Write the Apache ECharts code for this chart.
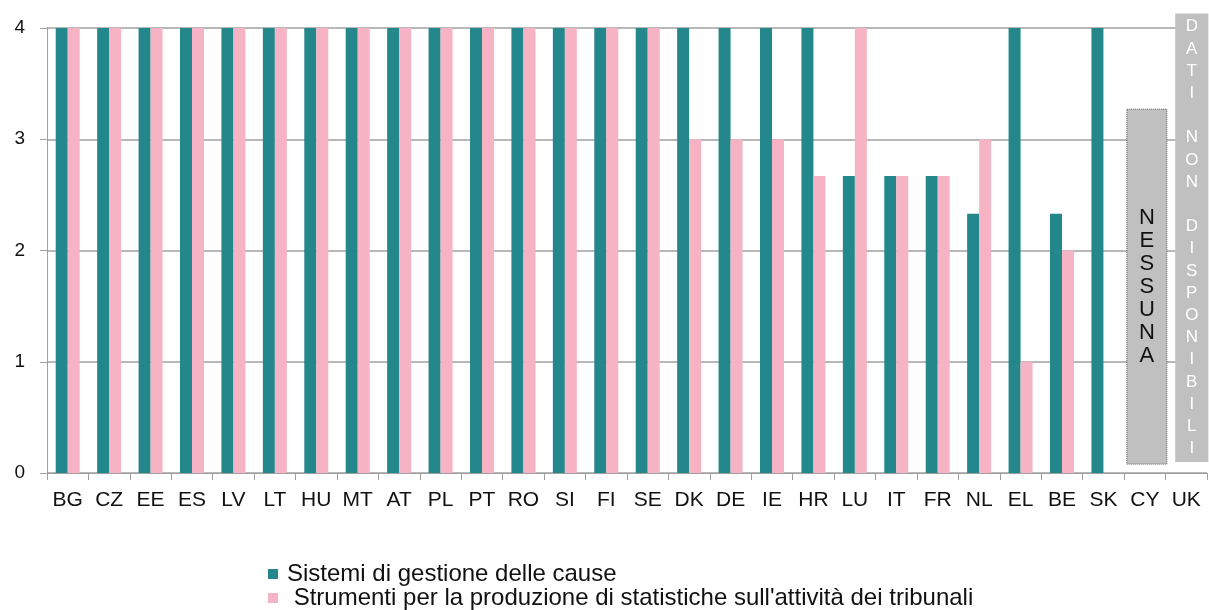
<!DOCTYPE html>
<html>
<head>
<meta charset="utf-8">
<script src="https://cdn.jsdelivr.net/npm/echarts@6/dist/echarts.min.js"></script>
<style>
html,body{margin:0;padding:0;background:#fff;}
#chart{width:1209px;height:610px;}
</style>
</head>
<body>
<div id="chart"></div>
<script>
var categories = ['BG','CZ','EE','ES','LV','LT','HU','MT','AT','PL','PT','RO','SI','FI','SE','DK','DE','IE','HR','LU','IT','FR','NL','EL','BE','SK','CY','UK'];
var seriesNames = ['Sistemi di gestione delle cause', ' Strumenti per la produzione di statistiche sull\'attività dei tribunali'];
var gestione = [4,4,4,4,4,4,4,4,4,4,4,4,4,4,4,4,4,4,4,2.67,2.67,2.67,2.33,4,2.33,4,null,null];
var statistiche = [4,4,4,4,4,4,4,4,4,4,4,4,4,4,4,3,3,3,2.67,4,2.67,2.67,3,1,2,null,null,null];
var yTicks = [0,1,2,3,4];
// annotation boxes: [category, bottom value, top value, label]
var notes = [
  ['CY', 0.08, 3.27, 'NESSUNA'],
  ['UK', 0.1, 4.13, 'DATI NON DISPONIBILI']
];

var FONT = '"Liberation Sans", Arial, sans-serif';
var chart = echarts.init(document.getElementById('chart'));

function verticalText(s) {
  return s.split('').map(function (c) { return c === ' ' ? '' : c; }).join('\n');
}

chart.setOption({
  animation: false,
  grid: { left: 47, right: 2, top: 28, bottom: 137, containLabel: false },
  legend: {
    orient: 'vertical',
    left: 268, top: 562, height: 50, padding: 0,
    itemWidth: 10, itemHeight: 10, itemGap: 0,
    icon: 'rect',
    textStyle: { fontFamily: FONT, fontSize: 24, color: '#111', lineHeight: 23, padding: [0, 0, 0, 4] },
    data: seriesNames
  },
  xAxis: {
    type: 'category',
    data: categories,
    axisLine: { lineStyle: { color: '#a0a0a0', width: 1 } },
    axisTick: { show: true, length: 7, lineStyle: { color: '#a0a0a0' } },
    axisLabel: { fontFamily: FONT, fontSize: 21, color: '#111', margin: 17, interval: 0 }
  },
  yAxis: {
    type: 'value',
    min: yTicks[0], max: yTicks[yTicks.length - 1], interval: 1,
    axisLine: { show: true, lineStyle: { color: '#a0a0a0', width: 1 } },
    axisTick: { show: true, length: 7, lineStyle: { color: '#a0a0a0' } },
    splitLine: { lineStyle: { color: '#a0a0a0', width: 1.5 } },
    axisLabel: { fontFamily: FONT, fontSize: 19, color: '#111', margin: 22, padding: [0, 0, 5, 0] }
  },
  series: [
    {
      name: seriesNames[0], type: 'bar', data: gestione,
      barWidth: 12, barGap: '0%',
      itemStyle: { color: '#23878c' }
    },
    {
      name: seriesNames[1], type: 'bar', data: statistiche,
      barWidth: 12, barGap: '0%',
      itemStyle: { color: '#f5b3c3' }
    },
    {
      type: 'custom',
      silent: true,
      clip: false,
      data: notes,
      encode: { x: 0, y: [1, 2] },
      renderItem: function (params, api) {
        var cat = api.value(0);
        var bottom = api.coord([cat, api.value(1)]);
        var top = api.coord([cat, api.value(2)]);
        var bw = api.size([1, 0])[0];
        var label = notes[params.dataIndex][3];
        var isFirst = params.dataIndex === 0;
        var w = isFirst ? bw * 0.965 : bw * 0.8;
        var cx = isFirst ? bottom[0] + 2 : bottom[0] + 5.5;
        var x0 = cx - w / 2;
        var h = bottom[1] - top[1];
        return {
          type: 'group',
          children: [
            {
              type: 'rect',
              shape: { x: x0, y: top[1], width: w, height: h },
              style: isFirst
                ? { fill: '#c0c0c0', stroke: '#555', lineWidth: 1, lineDash: [1, 1] }
                : { fill: '#c0c0c0' }
            },
            {
              type: 'text',
              x: cx, y: top[1] + h / 2,
              style: {
                text: verticalText(label),
                fontFamily: FONT,
                fontSize: isFirst ? 22 : 17,
                lineHeight: isFirst ? 23 : 22.2,
                fill: isFirst ? '#111' : '#ffffff',
                align: 'center',
                verticalAlign: 'middle'
              }
            }
          ]
        };
      }
    }
  ]
});
</script>
</body>
</html>
